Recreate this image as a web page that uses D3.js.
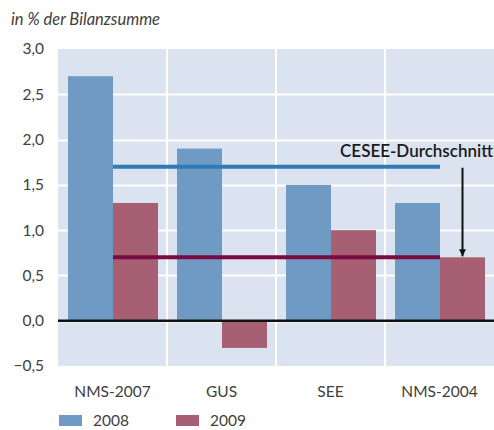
<!DOCTYPE html>
<html lang="de">
<head>
<meta charset="utf-8">
<script src="https://d3js.org/d3.v7.min.js"></script>
<style>
  html, body { margin: 0; padding: 0; background: #fff; }
  svg text { font-family: Lato, "Open Sans", sans-serif; fill: #404040; }
</style>
</head>
<body>
<script>
// chart data
var categories = ["NMS-2007", "GUS", "SEE", "NMS-2004"];
var seriesNames = ["2008", "2009"];
var values2008 = [2.7, 1.9, 1.5, 1.3];
var values2009 = [1.3, -0.3, 1.0, 0.7];
var avg2008 = 1.7;
var avg2009 = 0.7;
var yTicks = [-0.5, 0, 0.5, 1.0, 1.5, 2.0, 2.5, 3.0];
var unitLabel = "in % der Bilanzsumme";
var avgLabel = "CESEE-Durchschnitt";

var colors = { "2008": "#6f9ac4", "2009": "#a65f73" };

var width = 494, height = 430;
var margin = { top: 49, right: 0, bottom: 64, left: 58 };
var innerW = width - margin.left - margin.right,
    innerH = height - margin.top - margin.bottom;

var svg = d3.select("body").append("svg")
    .attr("width", width)
    .attr("height", height);

var g = svg.append("g")
    .attr("transform", "translate(" + margin.left + "," + margin.top + ")");

var x = d3.scaleBand().domain(categories).range([0, innerW]);
var xs = d3.scaleBand().domain(seriesNames)
    .range([10, x.bandwidth() - 9]);
var y = d3.scaleLinear().domain([-0.5, 3.0]).range([innerH, 0]);

// background
g.append("rect")
    .attr("width", innerW).attr("height", innerH)
    .attr("fill", "#dae3ef");

// horizontal grid
g.selectAll(".hgrid").data(yTicks.slice(1, -1)).enter().append("line")
    .attr("x1", 0).attr("x2", innerW)
    .attr("y1", function(d) { return Math.round(y(d)) + 0.5; })
    .attr("y2", function(d) { return Math.round(y(d)) + 0.5; })
    .attr("stroke", "#fff").attr("stroke-width", 2);

// vertical separators
g.selectAll(".vgrid").data(categories.slice(1)).enter().append("line")
    .attr("x1", function(d) { return x(d); })
    .attr("x2", function(d) { return x(d); })
    .attr("y1", 0).attr("y2", innerH)
    .attr("stroke", "#fff").attr("stroke-width", 2);

// bars
var rows = categories.map(function(c, i) {
  return { cat: c, vals: [{ s: "2008", v: values2008[i] }, { s: "2009", v: values2009[i] }] };
});
var groups = g.selectAll(".grp").data(rows).enter().append("g")
    .attr("transform", function(d) { return "translate(" + x(d.cat) + ",0)"; });
groups.selectAll("rect").data(function(d) { return d.vals; }).enter().append("rect")
    .attr("x", function(d) { return xs(d.s); })
    .attr("width", xs.bandwidth())
    .attr("y", function(d) { return y(Math.max(0, d.v)); })
    .attr("height", function(d) { return Math.abs(y(d.v) - y(0)); })
    .attr("fill", function(d) { return colors[d.s]; });

// zero line
g.append("line")
    .attr("x1", 0).attr("x2", innerW)
    .attr("y1", y(0)).attr("y2", y(0))
    .attr("stroke", "#111").attr("stroke-width", 2.5);

// average lines
var avgX1 = x(categories[0]) + xs("2009");
var avgX2 = x(categories[3]) + xs("2009");
g.append("line")
    .attr("x1", avgX1).attr("x2", avgX2)
    .attr("y1", y(avg2008)).attr("y2", y(avg2008))
    .attr("stroke", "#2f7bb6").attr("stroke-width", 4);
g.append("line")
    .attr("x1", avgX1).attr("x2", avgX2)
    .attr("y1", y(avg2009)).attr("y2", y(avg2009))
    .attr("stroke", "#7a0a42").attr("stroke-width", 4);

// arrow
svg.append("defs").append("marker")
    .attr("id", "arrow")
    .attr("viewBox", "0 0 10 10")
    .attr("refX", 10).attr("refY", 5)
    .attr("markerWidth", 4).attr("markerHeight", 3.5)
    .attr("markerUnits", "strokeWidth")
    .attr("orient", "auto")
  .append("path")
    .attr("d", "M0,0 L10,5 L0,10 z")
    .attr("fill", "#111");
var arrowX = x(categories[3]) + xs("2009") + xs.bandwidth() / 2;
g.append("line")
    .attr("x1", arrowX).attr("x2", arrowX)
    .attr("y1", y(avg2008) + 1).attr("y2", y(avg2009) - 1)
    .attr("stroke", "#111").attr("stroke-width", 2)
    .attr("marker-end", "url(#arrow)");

g.append("text")
    .attr("x", innerW - 1)
    .attr("y", y(avg2008) - 10)
    .attr("text-anchor", "end")
    .style("font-size", "17px")
    .style("font-weight", "600")
    .style("fill", "#1a1a1a")
    .text(avgLabel);

// y axis labels
g.selectAll(".ylab").data(yTicks).enter().append("text")
    .attr("x", -14)
    .attr("y", function(d) { return y(d); })
    .attr("dy", "0.35em")
    .attr("text-anchor", "end")
    .style("font-size", "15.5px")
    .text(function(d) { return d3.format(".1f")(d).replace(".", ",").replace("-", "\u2013"); });

// x labels
g.selectAll(".xlab").data(categories).enter().append("text")
    .attr("x", function(d) { return x(d) + x.bandwidth() / 2; })
    .attr("y", innerH + 31)
    .attr("text-anchor", "middle")
    .style("font-size", "15.5px")
    .text(function(d) { return d; });

// unit label
svg.append("text")
    .attr("x", 11).attr("y", 25)
    .style("font-size", "16.5px")
    .style("font-style", "italic")
    .text(unitLabel);

// legend
var legend = svg.append("g").attr("transform", "translate(59,415)");
var lg = legend.selectAll("g").data(seriesNames).enter().append("g")
    .attr("transform", function(d, i) { return "translate(" + (i * 117) + ",0)"; });
lg.append("rect")
    .attr("width", 23).attr("height", 11)
    .attr("fill", function(d) { return colors[d]; });
lg.append("text")
    .attr("x", 34).attr("y", 6)
    .attr("dy", "0.35em")
    .style("font-size", "15.5px")
    .text(function(d) { return d; });
</script>
</body>
</html>
